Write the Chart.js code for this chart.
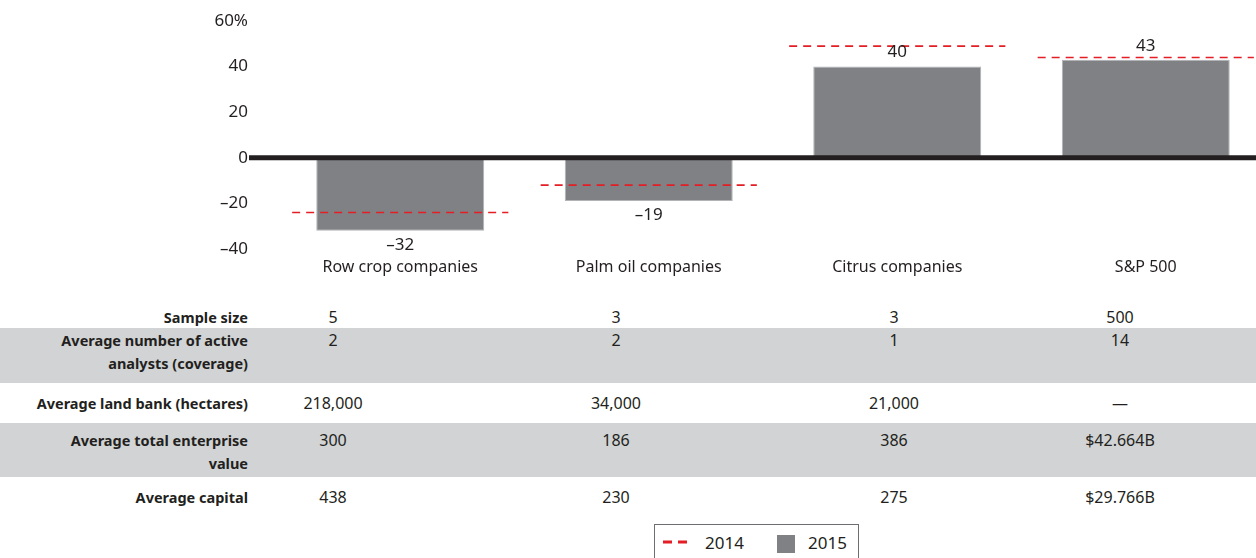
<!DOCTYPE html>
<html>
<head>
<meta charset="utf-8">
<script src="https://cdn.jsdelivr.net/npm/chart.js@4.4.1/dist/chart.umd.min.js"></script>
<style>
  body { margin: 0; background: #fff; font-family: "Noto Sans", sans-serif; color: #231f20; }
  #page { position: relative; width: 1256px; height: 558px; overflow: hidden; }
  #chart { position: absolute; left: 0; top: 0; }
  .row { position: absolute; left: 0; width: 1256px; }
  .row.shade { background: #d1d3d4; }
  .cell { position: absolute; line-height: 23px; white-space: pre-line; }
  .lbl { left: 0; width: 248px; text-align: right; font-weight: 700; font-size: 14.5px; }
  .val { width: 200px; margin-left: -100px; text-align: center; font-size: 16px; }
  #legend { position: absolute; left: 654px; top: 524px; width: 205px; height: 40px;
            border: 1px solid #6d6e71; box-sizing: border-box; font-size: 17px; }
  #legend span { position: absolute; top: 6px; }
</style>
</head>
<body>
<div id="page">
  <canvas id="chart" width="1270" height="300"></canvas>
  <div id="table"></div>
  <div id="legend"></div>
</div>
<script>
// chart values
const categories = ["Row crop companies", "Palm oil companies", "Citrus companies", "S&P 500"];
const values2015 = [-32, -19, 40, 43];
const values2014 = [-24, -12, 49, 44];
const yMin = -40, yMax = 60, yStep = 20;

// table values
const rowLabels = [
  "Sample size",
  "Average number of active\nanalysts (coverage)",
  "Average land bank (hectares)",
  "Average total enterprise\nvalue",
  "Average capital"
];
const sampleSize      = ["5", "3", "3", "500"];
const activeAnalysts  = ["2", "2", "1", "14"];
const landBank        = ["218,000", "34,000", "21,000", "\u2014"];
const enterpriseValue = ["300", "186", "386", "$42.664B"];
const averageCapital  = ["438", "230", "275", "$29.766B"];

const ink = "#231f20";
const barGrey = "#808184";
const dashRed = "#e31e25";

function dashText(v) {
  return v < 0 ? "\u2013" + Math.abs(v) : String(v);
}

// zero line, 2014 dashes and the value labels
const overlay = {
  id: "overlay",
  afterDatasetsDraw(chart) {
    const {ctx, chartArea, scales} = chart;
    const y0 = scales.y.getPixelForValue(0);
    ctx.save();

    ctx.strokeStyle = ink;
    ctx.lineWidth = 5;
    ctx.beginPath();
    ctx.moveTo(scales.y.right - 27, y0);
    ctx.lineTo(chartArea.right, y0);
    ctx.stroke();

    const half = scales.x.width / categories.length * 0.435;
    const dashMeta = chart.getDatasetMeta(0);
    ctx.strokeStyle = dashRed;
    ctx.lineWidth = 1.6;
    ctx.setLineDash([8, 6]);
    dashMeta.data.forEach(pt => {
      ctx.beginPath();
      ctx.moveTo(pt.x - half, pt.y);
      ctx.lineTo(pt.x + half, pt.y);
      ctx.stroke();
    });
    ctx.setLineDash([]);

    const barMeta = chart.getDatasetMeta(1);
    ctx.fillStyle = ink;
    ctx.font = "17px 'Noto Sans'";
    ctx.textAlign = "center";
    ctx.textBaseline = "middle";
    barMeta.data.forEach((bar, i) => {
      const v = values2015[i];
      const y = v < 0 ? bar.y + 14 : bar.y - 14;
      ctx.fillText(dashText(v), bar.x, y);
    });
    ctx.restore();
  }
};

const chart = new Chart(document.getElementById("chart"), {
  type: "bar",
  data: {
    labels: categories,
    datasets: [
      {
        type: "line",
        label: "2014",
        data: values2014,
        showLine: false,
        pointRadius: 0,
        borderColor: dashRed,
        backgroundColor: dashRed
      },
      {
        label: "2015",
        data: values2015,
        backgroundColor: barGrey,
        borderColor: "#b1b3b6",
        borderWidth: 1,
        categoryPercentage: 1,
        barPercentage: 0.676
      }
    ]
  },
  options: {
    responsive: false,
    animation: false,
    layout: { padding: { top: 21, bottom: 11, left: 0, right: 0 } },
    plugins: {
      legend: { display: false },
      tooltip: { enabled: false }
    },
    scales: {
      x: {
        grid: { display: false, drawTicks: false },
        border: { display: false },
        ticks: { color: ink, font: { family: "Noto Sans", size: 16 }, padding: 9 },
        afterFit(s) { s.height = 40; }
      },
      y: {
        min: yMin,
        max: yMax,
        grid: { display: false, drawTicks: false },
        border: { display: false },
        ticks: {
          stepSize: yStep,
          color: ink,
          padding: 28,
          font: { family: "Noto Sans", size: 17 },
          callback: v => v === yMax ? v + "%" : dashText(v)
        },
        afterFit(s) {
          s.width = 276;
          s.paddingTop = 10;
          s.paddingBottom = 10;
        }
      }
    }
  },
  plugins: [overlay]
});

// table under the chart
const tableRows = [sampleSize, activeAnalysts, landBank, enterpriseValue, averageCapital];
const rowBoxes = [
  { top: 306, h: 22, pad: 0, shade: false },
  { top: 328, h: 55, pad: 1, shade: true },
  { top: 383, h: 40, pad: 9, shade: false },
  { top: 423, h: 54, pad: 6, shade: true },
  { top: 477, h: 40, pad: 9, shade: false }
];
const colCentres = [333, 616, 894, 1120];
const table = document.getElementById("table");
tableRows.forEach((vals, r) => {
  const box = rowBoxes[r];
  const row = document.createElement("div");
  row.className = "row" + (box.shade ? " shade" : "");
  row.style.top = box.top + "px";
  row.style.height = box.h + "px";
  const lbl = document.createElement("div");
  lbl.className = "cell lbl";
  lbl.style.top = box.pad + "px";
  lbl.textContent = rowLabels[r];
  row.appendChild(lbl);
  vals.forEach((v, c) => {
    const cell = document.createElement("div");
    cell.className = "cell val";
    cell.style.top = box.pad + "px";
    cell.style.left = colCentres[c] + "px";
    cell.textContent = v;
    row.appendChild(cell);
  });
  table.appendChild(row);
});

// legend built from the datasets
const legend = document.getElementById("legend");
const ds = chart.data.datasets;
legend.innerHTML =
  '<svg style="position:absolute;left:7px;top:14px" width="30" height="6">' +
  '<line x1="1" y1="3" x2="29" y2="3" stroke="' + ds[0].borderColor +
  '" stroke-width="3" stroke-dasharray="9,6"/></svg>' +
  '<span style="left:50px">' + ds[0].label + '</span>' +
  '<div style="position:absolute;left:122px;top:10px;width:18px;height:18px;background:' +
  ds[1].backgroundColor + '"></div>' +
  '<span style="left:153px">' + ds[1].label + '</span>';
</script>
</body>
</html>
